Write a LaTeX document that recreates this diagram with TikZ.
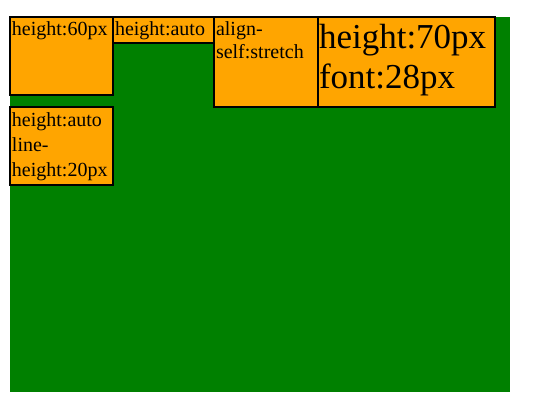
\documentclass[tikz,border=0pt]{standalone}
\usepackage{fontspec}
\setmainfont{Liberation Serif}
\definecolor{flexgreen}{HTML}{008000}
\definecolor{itemorange}{HTML}{FFA500}
% width, height, first baseline, text
\newcommand{\itemtext}[4]{\parbox[b][#2][t]{#1}{\raggedright\rule{0pt}{#3}#4}}

\begin{document}
\begin{tikzpicture}[x=1pt,y=-1pt,item/.style={draw=black, line width=1.2pt, fill=itemorange, inner xsep=2pt, inner ysep=0pt, outer sep=0pt, anchor=north west, font=\fontsize{20}{23}\selectfont},bigitem/.style={item, font=\fontsize{35}{40}\selectfont}]
\useasboundingbox (0,0) rectangle (536,406);
\fill[flexgreen] (10,17) rectangle (510,392);
\node[item] (h60) at (10,17) {\itemtext{99pt}{78pt}{19pt}{height:60px}};
\node[item] (hauto) at (h60.north east) {\itemtext{97pt}{26pt}{19pt}{height:auto}};
\node[item] (stretch) at (hauto.north east) {\itemtext{100pt}{90pt}{19pt}{align-\\self:stretch}};
\node[bigitem, inner xsep=1pt] (h70) at (stretch.north east) {\itemtext{175pt}{90pt}{32pt}{height:70px\\font:28px}};
\node[item, font=\fontsize{20}{25}\selectfont] (lh20) at (h60.west |- stretch.south) {\itemtext{99pt}{78pt}{20pt}{height:auto\\line-\\height:20px}};
\end{tikzpicture}
\end{document}
